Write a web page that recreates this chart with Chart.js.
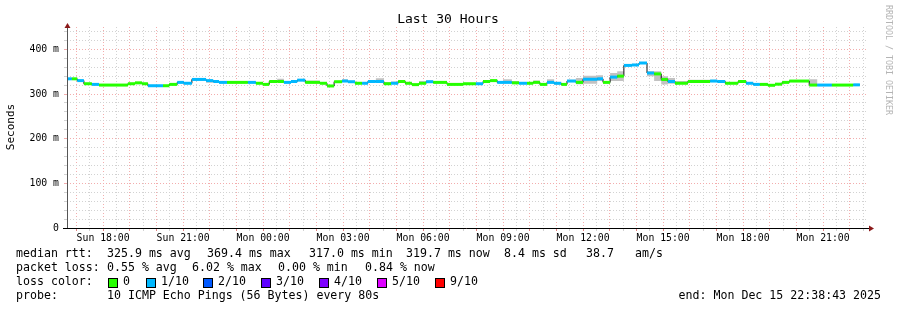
<!DOCTYPE html>
<html lang="en">
<head>
<meta charset="UTF-8">
<title>Last 30 Hours</title>
<script src="https://cdn.jsdelivr.net/npm/chart.js"></script>
<style>
  html, body { margin: 0; padding: 0; background: #fff; }
  canvas { display: block; }
</style>
</head>
<body>
<canvas id="chart" width="897" height="310"></canvas>
<script>
// minutes since the graph start (Sun 16:38:43), one entry per step
const stepStart = [0, 11, 23, 38, 56, 72, 137, 153, 169, 182,
  216, 230, 248, 263, 281, 313, 329, 342, 360, 407,
  425, 441, 455, 473, 488, 504, 518, 536, 569, 585,
  601, 619, 632, 648, 664, 677, 695, 713, 729, 745,
  761, 776, 792, 808, 824, 855, 891, 920, 936, 952,
  968, 981, 1001, 1017, 1035, 1049, 1064, 1080, 1096, 1112,
  1125, 1145, 1161, 1193, 1206, 1222, 1238, 1253, 1271, 1287,
  1305, 1321, 1337, 1352, 1368, 1397, 1447, 1463, 1481, 1510,
  1528, 1544, 1559, 1577, 1593, 1609, 1625, 1670, 1688, 1721,
  1769];
const stepEnd = 1784;
const rangeMinutes = 1800;

// median rtt in ms
const medianRtt = [334, 334, 330, 323, 321.5, 320, 323, 325, 323, 318.5,
  318.5, 321.5, 326, 324, 332.6, 330, 328, 326, 326, 326,
  324, 321.5, 328, 328, 326, 328, 331, 326, 324, 318,
  327.5, 329, 327.5, 324, 324, 328, 328, 323, 324, 328,
  324, 321, 324, 327.5, 326, 321.5, 323, 323, 328, 330,
  326, 326, 325, 324, 324, 326, 321.5, 326, 324, 321.5,
  329, 326, 333, 334, 326, 337.8, 340, 364, 365, 369.4,
  347, 345, 332.6, 328, 324, 328, 329, 328, 324, 328,
  324, 321.5, 321.5, 319.5, 322, 326, 329, 320, 320, 320,
  320.5];

// lost pings out of 10
const lossCount = [1, 0, 1, 0, 1, 0, 0, 0, 0, 1,
  0, 0, 1, 1, 1, 1, 1, 1, 0, 1,
  0, 0, 0, 0, 1, 1, 1, 0, 0, 0,
  0, 1, 1, 0, 1, 1, 1, 0, 1, 0,
  0, 0, 0, 1, 0, 0, 0, 1, 0, 0,
  1, 1, 0, 1, 0, 0, 0, 1, 1, 0,
  1, 0, 1, 1, 0, 1, 0, 1, 1, 1,
  1, 0, 0, 1, 0, 0, 1, 1, 0, 0,
  1, 1, 0, 0, 0, 0, 0, 0, 1, 0,
  1];

// smoke (spread of the single pings) in ms
const smokeHigh = [335, 335, 331, 324, 323, 321, 324, 326, 324, 320,
  320, 323, 327, 325, 334, 331, 329, 329, 327, 327,
  325, 323, 331, 334, 327, 329, 332, 330, 325, 319,
  329, 333, 329, 325, 325, 329, 335, 327, 328, 329,
  325, 322, 329, 330, 327, 324, 324, 324, 329, 331,
  329, 333, 329, 325, 325, 330, 324, 333, 325, 323,
  332, 336, 341, 342, 328, 347, 351, 366, 366, 370,
  351, 351, 340, 336, 329, 332, 332, 329, 325, 331,
  325, 323, 323, 321, 323, 327, 330, 333, 321, 321,
  321];
const smokeLow = [333, 333, 329, 322, 320, 319, 322, 324, 322, 317,
  317, 320, 325, 323, 331, 325, 327, 325, 325, 325,
  323, 320, 327, 327, 325, 327, 330, 325, 323, 317,
  326, 328, 326, 323, 323, 327, 327, 322, 323, 327,
  323, 320, 323, 326, 325, 320, 322, 322, 327, 329,
  325, 325, 324, 323, 323, 325, 320, 325, 321, 320,
  328, 322, 323, 329, 324, 329, 329, 362, 364, 368,
  340, 329, 321, 323, 323, 327, 328, 327, 323, 327,
  323, 320, 320, 318, 321, 325, 328, 319, 319, 319,
  320];

const lossLabels = ['0', '1/10', '2/10', '3/10', '4/10', '5/10', '9/10'];
const lossColors = ['#26ff00', '#00b8ff', '#0059ff', '#5e00ff', '#7e00ff', '#dd00ff', '#ff0000'];

const rttStats = ['325.9 ms avg', '369.4 ms max', '317.0 ms min', '319.7 ms now', '8.4 ms sd', '38.7', 'am/s'];
const lossStats = ['0.55 % avg', '6.02 % max', '0.00 % min', '0.84 % now'];
const probeText = '10 ICMP Echo Pings (56 Bytes) every 80s';
const endText = 'end: Mon Dec 15 22:38:43 2025';

const startMinuteOfDay = 16 * 60 + 38 + 43 / 60;
const yMax = 450;

const gridGray = '#d2d2d2';
const gridRed = '#f3adad';
const mono = "'DejaVu Sans Mono', monospace";

// --- build datasets from the arrays ---
const stepPts = stepStart.map((t, i) => ({ x: t, y: medianRtt[i] }));
stepPts.push({ x: stepEnd, y: medianRtt[medianRtt.length - 1] });

const highPts = stepStart.map((t, i) => ({ x: t, y: smokeHigh[i] }));
highPts.push({ x: stepEnd, y: smokeHigh[smokeHigh.length - 1] });
const lowPts = stepStart.map((t, i) => ({ x: t, y: smokeLow[i] }));
lowPts.push({ x: stepEnd, y: smokeLow[smokeLow.length - 1] });

const piecePts = [];
stepStart.forEach((t, i) => {
  const end = i + 1 < stepStart.length ? stepStart[i + 1] : stepEnd;
  piecePts.push({ x: t, y: medianRtt[i] }, { x: end, y: medianRtt[i] });
});

function clockMinutes(v) {
  return Math.round(startMinuteOfDay + v);
}

const xGridTimes = [];
for (let t = 60 - (startMinuteOfDay % 60); t < rangeMinutes; t += 30) xGridTimes.push(t);
const yGridValues = [];
for (let v = 0; v < yMax; v += 20) yGridValues.push(v);

const extras = {
  id: 'extras',
  beforeDraw(chart) {
    const c = chart.ctx;
    c.save();
    c.fillStyle = '#fff';
    c.fillRect(0, 0, chart.width, chart.height);
    c.restore();
  },
  afterDraw(chart) {
    const c = chart.ctx;
    const a = chart.chartArea;
    c.save();

    // axes
    c.lineWidth = 1;
    c.strokeStyle = '#555';
    c.beginPath();
    c.moveTo(a.left + 0.5, a.top);
    c.lineTo(a.left + 0.5, a.bottom);
    c.stroke();
    c.strokeStyle = '#000';
    c.beginPath();
    c.moveTo(a.left - 4, a.bottom + 0.5);
    c.lineTo(a.right + 3, a.bottom + 0.5);
    c.stroke();

    // arrows
    c.fillStyle = '#8b1a1a';
    c.beginPath();
    c.moveTo(a.left + 0.5, a.top - 4);
    c.lineTo(a.left - 2.5, a.top + 1);
    c.lineTo(a.left + 3.5, a.top + 1);
    c.closePath();
    c.fill();
    c.beginPath();
    c.moveTo(a.right + 7, a.bottom + 0.5);
    c.lineTo(a.right + 2, a.bottom - 2.5);
    c.lineTo(a.right + 2, a.bottom + 3.5);
    c.closePath();
    c.fill();

    // title
    c.fillStyle = '#000';
    c.font = '13px ' + mono;
    c.textAlign = 'center';
    c.textBaseline = 'middle';
    c.fillText('Last 30 Hours', 448, 20);

    // y axis title
    c.save();
    c.translate(11, 127);
    c.rotate(-Math.PI / 2);
    c.font = '11px ' + mono;
    c.fillText('Seconds', 0, 0);
    c.restore();

    // watermark
    c.save();
    c.translate(888, 5);
    c.rotate(Math.PI / 2);
    c.font = '8.3px ' + mono;
    c.fillStyle = '#b4b4b4';
    c.textAlign = 'left';
    c.fillText('RRDTOOL / TOBI OETIKER', 0, 0);
    c.restore();

    // legend
    c.font = '11.6px ' + mono;
    c.textAlign = 'left';
    c.fillStyle = '#000';
    const rttX = [107, 207, 309, 406, 504, 586, 635];
    c.fillText('median rtt:', 16, 254);
    rttStats.forEach((s, i) => c.fillText(s, rttX[i], 254));
    const lossX = [107, 192, 278, 365];
    c.fillText('packet loss:', 16, 268);
    lossStats.forEach((s, i) => c.fillText(s, lossX[i], 268));
    c.fillText('loss color:', 16, 282);
    const boxX = [108, 146, 203, 261, 319, 377, 435];
    lossLabels.forEach((l, i) => {
      c.fillStyle = lossColors[i];
      c.fillRect(boxX[i], 278, 9, 9);
      c.strokeStyle = '#000';
      c.strokeRect(boxX[i] + 0.5, 278.5, 9, 9);
      c.fillStyle = '#000';
      c.fillText(l, boxX[i] + 15, 282);
    });
    c.fillText('probe:', 16, 296);
    c.fillText(probeText, 107, 296);
    c.textAlign = 'right';
    c.fillText(endText, 881, 296);

    c.restore();
  }
};

new Chart(document.getElementById('chart'), {
  type: 'line',
  data: {
    datasets: [
      {
        label: 'colored median',
        data: piecePts,
        borderColor: lossColors[0],
        borderWidth: 3,
        borderCapStyle: 'butt',
        pointRadius: 0,
        order: 0,
        segment: {
          borderColor: ctx => ctx.p0.parsed.x === ctx.p1.parsed.x
            ? 'rgba(0,0,0,0)'
            : lossColors[lossCount[Math.floor(ctx.p0DataIndex / 2)]]
        }
      },
      {
        label: 'median',
        data: stepPts,
        stepped: 'before',
        borderColor: '#111',
        borderWidth: 1,
        pointRadius: 0,
        order: 1
      },
      {
        label: 'smoke high',
        data: highPts,
        stepped: 'before',
        borderWidth: 0,
        borderColor: 'rgba(0,0,0,0)',
        backgroundColor: '#c2c2c2',
        fill: '+1',
        pointRadius: 0,
        order: 2
      },
      {
        label: 'smoke low',
        data: lowPts,
        stepped: 'before',
        borderWidth: 0,
        borderColor: 'rgba(0,0,0,0)',
        pointRadius: 0,
        order: 3
      }
    ]
  },
  options: {
    responsive: false,
    devicePixelRatio: 1,
    animation: false,
    layout: { padding: { top: 27, right: 30, left: 0, bottom: 0 } },
    plugins: {
      legend: { display: false },
      tooltip: { enabled: false },
      title: { display: false }
    },
    scales: {
      x: {
        type: 'linear',
        min: 0,
        max: rangeMinutes,
        afterBuildTicks: s => { s.ticks = xGridTimes.map(v => ({ value: v })); },
        afterFit: s => { s.height = 82; },
        grid: {
          color: c => clockMinutes(c.tick.value) % 60 === 0 ? gridRed : gridGray,
          tickColor: c => clockMinutes(c.tick.value) % 60 === 0 ? '#e08080' : gridGray,
          tickLength: 3,
          lineWidth: 1
        },
        border: { display: false, dash: [1, 2] },
        ticks: {
          autoSkip: false,
          maxRotation: 0,
          padding: 2,
          color: '#000',
          font: { family: mono, size: 9.8 },
          callback: v => {
            const m = clockMinutes(v);
            if (m % 180 !== 0) return '';
            const day = m >= 1440 ? 'Mon' : 'Sun';
            const hh = Math.floor((m % 1440) / 60);
            return day + ' ' + String(hh).padStart(2, '0') + ':00';
          }
        }
      },
      y: {
        min: 0,
        max: yMax,
        afterBuildTicks: s => { s.ticks = yGridValues.map(v => ({ value: v })); },
        afterFit: s => { s.width = 67; },
        grid: {
          color: c => c.tick.value % 100 === 0 ? gridRed : gridGray,
          tickColor: c => c.tick.value === 0 ? '#000' : (c.tick.value % 100 === 0 ? gridRed : gridGray),
          tickLength: 3,
          lineWidth: 1
        },
        border: { display: false, dash: [1, 2] },
        ticks: {
          autoSkip: false,
          padding: 5,
          color: '#000',
          font: { family: mono, size: 9.8 },
          callback: v => v % 100 !== 0 ? '' : (v === 0 ? '0' : v + ' m')
        }
      }
    }
  },
  plugins: [extras]
});
</script>
</body>
</html>
